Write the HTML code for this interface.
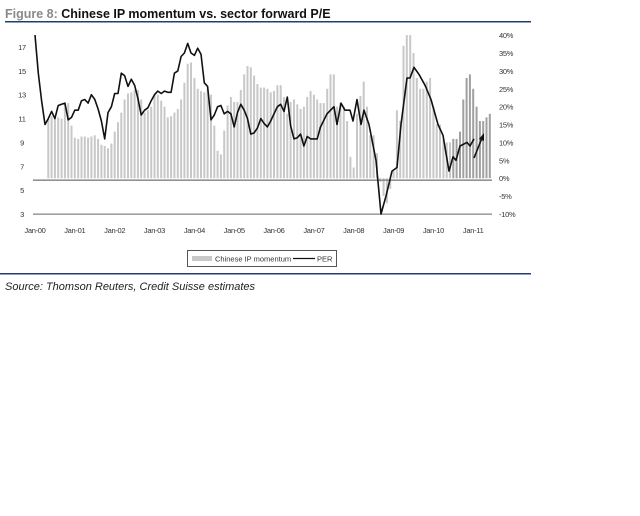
<!DOCTYPE html>
<html><head><meta charset="utf-8"><style>
body{margin:0;background:#fff;width:640px;height:511px;overflow:hidden;font-family:"Liberation Sans",Arial,sans-serif}
</style></head><body>
<svg id="s" width="640" height="511" xmlns="http://www.w3.org/2000/svg" font-family="Liberation Sans, Arial, sans-serif">
<text x="5" y="18" font-size="12.5" font-weight="bold"><tspan fill="#8a8a8a">Figure 8: </tspan><tspan fill="#111">Chinese IP momentum vs. sector forward P/E</tspan></text>
<rect x="5" y="21" width="526" height="1.5" fill="#1f3f6e"/>
<rect x="0" y="273" width="531" height="1.5" fill="#1f3f6e"/>
<text x="5" y="290" font-size="11" font-style="italic" fill="#222">Source: Thomson Reuters, Credit Suisse estimates</text>
<g id="bars"></g>
<rect x="33" y="179.5" width="459" height="1.3" fill="#777"/>
<rect x="33" y="213.5" width="459" height="1.3" fill="#888"/>
<g id="lab" font-size="7.5" fill="#333" letter-spacing="-0.3"></g>
<polyline id="per" fill="none" stroke="#111" stroke-width="1.6" stroke-linejoin="round"/>
<line x1="474" y1="158" x2="482" y2="138" stroke="#111" stroke-width="1.6"/>
<polygon points="484,133 479,139 484,141" fill="#111"/>
<rect x="187.5" y="250.5" width="149" height="16" fill="#fff" stroke="#555" stroke-width="1"/>
<rect x="192" y="256" width="20" height="5" fill="#c8c8c8"/>
<text x="215" y="261.5" font-size="7.5" fill="#333">Chinese IP momentum</text>
<line x1="293" y1="258.5" x2="315" y2="258.5" stroke="#111" stroke-width="1.3"/>
<text x="317" y="261.5" font-size="7.5" fill="#333">PER</text>
</svg>
<script>
var NS="http://www.w3.org/2000/svg";
function X(m){return 35+m*3.32;}
function Y(v){return 47+(17-v)*11.93;}
function P(p){return 6+p*0.3;}
var ipL=[null,null,null,null,11,11.2,11,11.1,11,12.3,12.3,10.4,9.4,9.3,9.5,9.5,9.4,9.5,9.6,9.3,8.8,8.7,8.5,8.9,9.9,10.7,11.5,12.6,13.1,13.2,13.4,13.4,12.6,11.5,11.7,12,13,13,12.5,12,11.1,11.2,11.5,11.8,12.6,14,15.6,15.7,14.4,13.5,13.3,13.2,13.5,13,10.4,8.3,8,10,12.1,12.8,12.4,12.4,13.4,14.7,15.4,15.3,14.6,13.9,13.6,13.6,13.5,13.2,13.3,13.8,13.8,12.8,11.4,12.4,12.6,12.2,11.8,12,12.8,13.3,13,12.6];
var ipP=[21,21,25,29,29,20,21,20,16,6,3,18,23,27,20,12,12,7,-1,-5,-7,-3,2,19,16,37,40,40,35,28,25,25,27,28,20,15,15,11,10,10,11,11,13,22,28,29,25,20,16,16,17,18];
var ip=ipL.slice();ipP.forEach(function(p){ip.push(P(p));});
var g=document.getElementById("bars"),h="";
for(var i=0;i<ip.length;i++){if(ip[i]==null)continue;var y=Y(ip[i]),z=Y(6);var c=i>=126?"#a0a0a0":"#c8c8c8";
h+='<rect x="'+(X(i)-1).toFixed(1)+'" y="'+Math.min(y,z).toFixed(1)+'" width="2" height="'+Math.abs(z-y).toFixed(1)+'" fill="'+c+'"/>';}
g.innerHTML=h;
var perL=[18,14.8,12.5,10.5,11,11.6,11,12.1,12.2,12.3,10.9,11.1,11.7,11.7,12.5,12.6,12.3,13,12.6,11.8,10.8,9.3,11.5,12,13.1,13.1,14.8,14.6,13.7,14.3,13.8,12.7,11.3,11.7,11.9,12.5,13,13.3,13.1,13.3,13.2,13.2,14.8,15,16.2,16.5,17.3,16.5,16.3,16.9,16.4,14,13.7,10.9,11.3,12,12.1,11.4,11.6,11.4,10.3,11.5,12.2,11.7,11,9.7,9.8,10.2,11,10.6,10.3,10.8,11.4,12,12.2,11.6,12.8,10.4,9.3,9.4,9.7,8.7,9.5,9.3,9.3,9.3,10.3];
var pts=perL.map(function(v,i){return X(i).toFixed(1)+","+Y(v).toFixed(1);});
var rp=[[320,14],[327,18],[334,20],[337,15],[341,21],[345,19],[350,19],[353,16],[357,22],[361,15],[364,19],[369,15],[376,5],[381,-10],[386,-5],[392,2],[397,3],[401,15],[407,28],[410,28],[414,31],[419,29],[425,26],[431,22],[438,15],[443,12],[449,2],[453,6],[456,5],[460,9],[467,10],[470,9],[474,11]];
rp.forEach(function(q){pts.push(q[0]+","+Y(P(q[1])).toFixed(1));});
document.getElementById("per").setAttribute("points",pts.join(" "));
var l="";
[17,15,13,11,9,7,5,3].forEach(function(v){l+='<text x="22" y="'+(Y(v)+3).toFixed(1)+'" text-anchor="middle">'+v+'</text>';});
[40,35,30,25,20,15,10,5,0,-5,-10].forEach(function(p){l+='<text x="499" y="'+(Y(P(p))+3).toFixed(1)+'">'+p+'%</text>';});
for(var k=0;k<12;k++){var yy=k<10?"0"+k:""+k;l+='<text x="'+X(k*12).toFixed(1)+'" y="233" text-anchor="middle">Jan-'+yy+'</text>';}
document.getElementById("lab").innerHTML=l;
</script>
</body></html>
